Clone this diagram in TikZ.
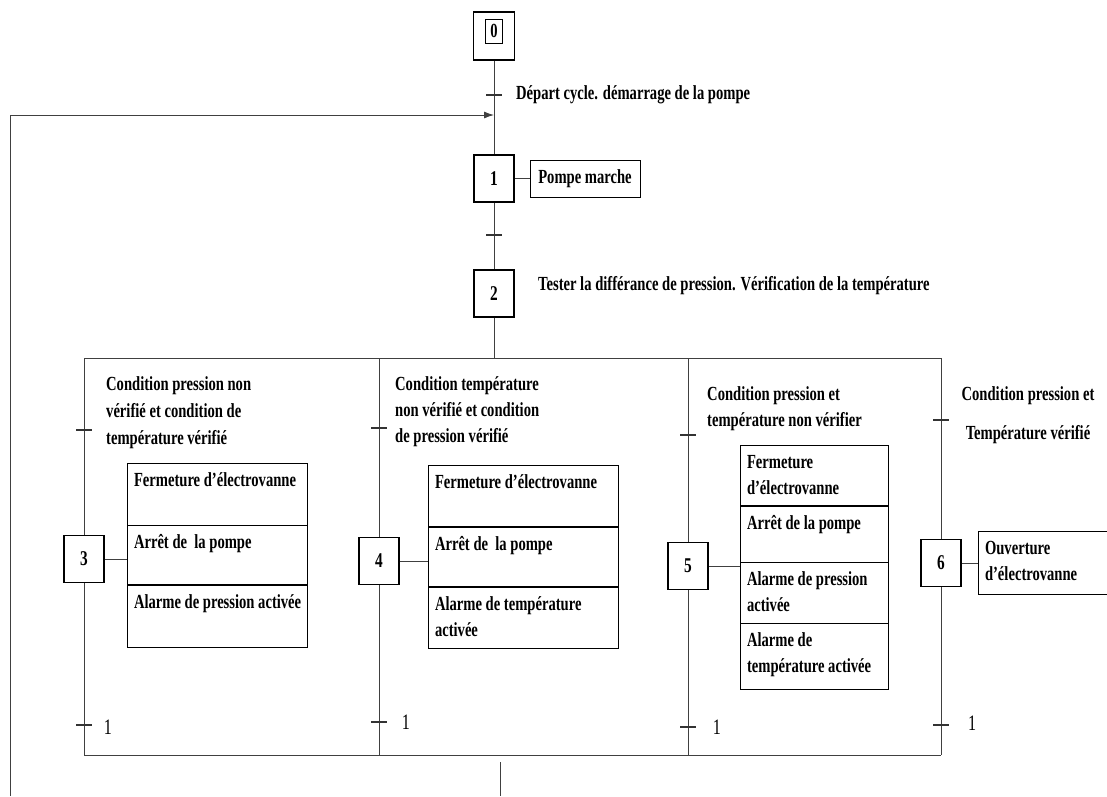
\documentclass[tikz,border=0pt]{standalone}
\usepackage{fontspec}
\setmainfont{Liberation Serif}[FakeStretch=0.73]
\usetikzlibrary{arrows.meta}
\newcommand\mycell[3]{\parbox[t][#2][t]{#1}{\raggedright\leftskip=7pt\rule{0pt}{23pt}#3}}
\begin{document}
\begin{tikzpicture}[x=1pt,y=-1pt,
  txt/.style={font=\fontsize{20}{27}\selectfont\bfseries, inner sep=0pt, align=left},
  stepbox/.style={draw, line width=1.3pt, minimum width=40pt, minimum height=47pt, inner sep=0pt, font=\fontsize{21}{24}\selectfont\bfseries},
  cell/.style={draw, line width=0.9pt, inner sep=0pt, outer sep=0pt, anchor=north west, font=\fontsize{20}{26}\selectfont\bfseries},
  link/.style={line width=0.9pt, draw=black!75},
  tick/.style={line width=1.3pt, draw=black!80},
  sep/.style={line width=2.2pt},
  one/.style={font=\fontsize{22}{24}\selectfont, inner sep=0pt},
]
\useasboundingbox (0,0) rectangle (1107,796);

% steps
\node[stepbox, minimum width=41pt, minimum height=48pt] (s0) at (494,36) {};
\node[draw, line width=1pt, minimum width=17pt, minimum height=24pt, inner sep=0pt, font=\fontsize{20}{24}\selectfont\bfseries] (s0in) at (494,31) {0};
\node[stepbox] (s1) at (494,178.5) {1};
\node[stepbox] (s2) at (494,293.5) {2};
\node[stepbox] (s3) at (84,559) {3};
\node[stepbox] (s4) at (379,561) {4};
\node[stepbox] (s5) at (688,566) {5};
\node[stepbox] (s6) at (941,563) {6};

% coordinates
\coordinate (t0) at (494,95);
\coordinate (t1) at (494,235);
\coordinate (loopin) at (494,115);
\coordinate (loopstart) at (10,796);
\coordinate (dtop) at (494,358);
\coordinate (d3) at (84,358);
\coordinate (d4) at (379,358);
\coordinate (d5) at (688,358);
\coordinate (d6) at (941,358);
\coordinate (c3) at (84,755);
\coordinate (c4) at (379,755);
\coordinate (c5) at (688,755);
\coordinate (c6) at (941,755);
\coordinate (cout) at (500,762);
\coordinate (cend) at (500,796);
\coordinate (t3) at (84,430);
\coordinate (t4) at (379,428);
\coordinate (t5) at (688,435);
\coordinate (t6) at (941,420);
\coordinate (b3) at (84,725);
\coordinate (b4) at (379,722);
\coordinate (b5) at (688,727);
\coordinate (b6) at (941,725);

% main line
\draw[link] (s0.south) -- (s1.north);
\draw[link] (s1.south) -- (s2.north);
\draw[link] (s2.south) -- (dtop);
\draw[link,-{Latex[length=10pt,width=7pt]}] (loopstart) |- (loopin);

% divergence / convergence
\draw[link] (d3) -- (d6);
\draw[link] (c3) -- (c6);
\draw[link] (cout) -- (cend);
\foreach \i in {3,4,5,6}{
  \draw[link] (d\i) -- (s\i.north);
  \draw[link] (s\i.south) -- (c\i);
}

% ticks
\foreach \t in {t0,t1,t3,t4,t5,t6,b3,b4,b5,b6}{
  \draw[tick] ([xshift=-8pt]\t) -- ([xshift=8pt]\t);
}

% texts
\node[txt, anchor=west] (l0) at (516,95) {Départ cycle. démarrage de la pompe};
\node[draw, line width=0.9pt, minimum width=110pt, inner sep=0pt, minimum height=37pt, font=\fontsize{20}{24}\selectfont\bfseries] (a1) at (585,178.5) {Pompe marche};
\draw[link] (s1.east) -- (a1.west);
\node[txt, anchor=west] (a2) at (538,286) {Tester la différance de pression. Vérification de la température};

\node[txt, anchor=north west] (l3) at (106,376) {Condition pression non\\vérifié et condition de\\température vérifié};
\node[txt, anchor=north west, font=\fontsize{20}{26}\selectfont\bfseries] (l4) at (395,376) {Condition température\\non vérifié et condition\\de pression vérifié};
\node[txt, anchor=north west, font=\fontsize{20}{26}\selectfont\bfseries] (l5) at (707,386) {Condition pression et\\température non vérifier};
\node[txt, anchor=north, align=center] (l6) at (1028,386) {Condition pression et\\[12pt]Température vérifié};

% step 3 actions
\node[cell] (a3a) at (127,463) {\mycell{180pt}{62pt}{Fermeture d’électrovanne}};
\node[cell] (a3b) at (a3a.south west) {\mycell{180pt}{60pt}{Arrêt de\ \ la pompe}};
\node[cell] (a3c) at (a3b.south west) {\mycell{180pt}{62pt}{Alarme de pression activée}};
\draw[sep] (a3b.south west) -- (a3b.south east);
\draw[link] (s3.east) -- (s3.east -| a3b.west);

% step 4 actions
\node[cell] (a4a) at (428,465) {\mycell{190pt}{62pt}{Fermeture d’électrovanne}};
\node[cell] (a4b) at (a4a.south west) {\mycell{190pt}{60pt}{Arrêt de\ \ la pompe}};
\node[cell] (a4c) at (a4b.south west) {\mycell{190pt}{61pt}{Alarme de température\\activée}};
\draw[sep] (a4a.south west) -- (a4a.south east);
\draw[sep] (a4b.south west) -- (a4b.south east);
\draw[link] (s4.east) -- (s4.east -| a4b.west);

% step 5 actions
\node[cell] (a5a) at (740,445) {\mycell{148pt}{61pt}{Fermeture\\d’électrovanne}};
\node[cell] (a5b) at (a5a.south west) {\mycell{148pt}{56pt}{Arrêt de la pompe}};
\node[cell] (a5c) at (a5b.south west) {\mycell{148pt}{61pt}{Alarme de pression\\activée}};
\node[cell] (a5d) at (a5c.south west) {\mycell{148pt}{66pt}{Alarme de\\température activée}};
\draw[sep] (a5a.south west) -- (a5a.south east);
\draw[link] (s5.east) -- (s5.east -| a5b.west);

% step 6 action
\node[cell] (a6) at (978,531) {\mycell{135pt}{63pt}{Ouverture\\d’électrovanne}};
\draw[link] (s6.east) -- (s6.east -| a6.west);

% bottom labels
\node[one] (n3) at (108,727) {1};
\node[one] (n4) at (406,722) {1};
\node[one] (n5) at (717,727) {1};
\node[one] (n6) at (972,723) {1};
\end{tikzpicture}
\end{document}
